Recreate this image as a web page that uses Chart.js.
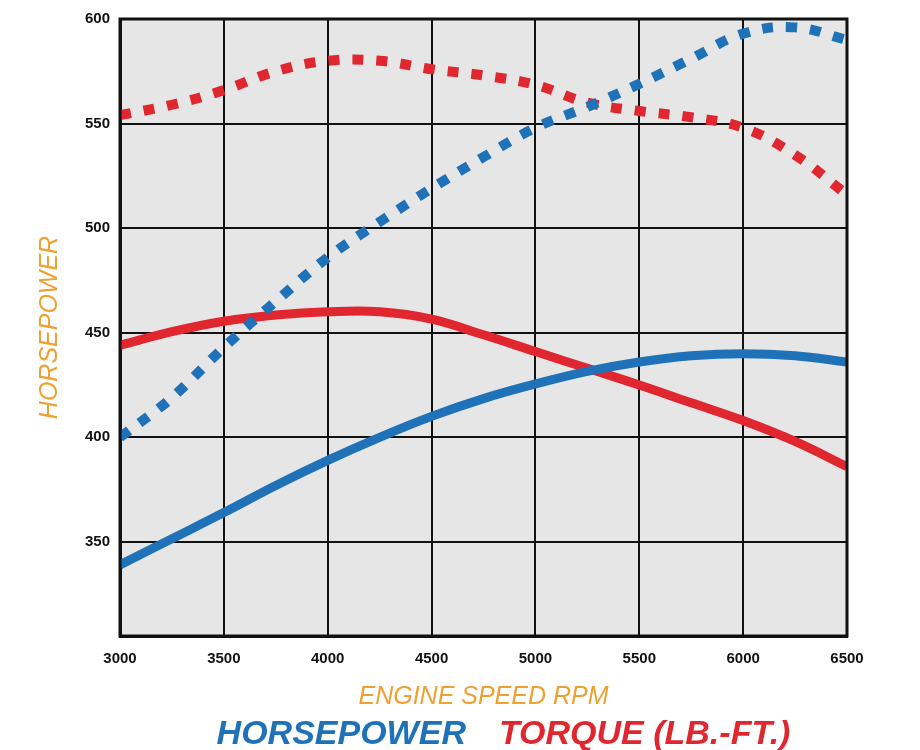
<!DOCTYPE html>
<html>
<head>
<meta charset="utf-8">
<script src="https://cdn.jsdelivr.net/npm/chart.js@4/dist/chart.umd.min.js"></script>
<style>
  html,body{margin:0;padding:0;background:#fff;}
  #wrap{width:920px;height:750px;}
</style>
</head>
<body>
<div id="wrap"><canvas id="c" width="920" height="750"></canvas></div>
<script>
const rpm = [3000,3250,3500,3750,4000,4250,4500,4750,5000,5250,5500,5750,6000,6250,6500];
const hpSolid = [339,351.5,364,377,389,400,410,418.5,425.5,431.5,436,439,440,439,436];
const tqSolid = [444,450.5,455.5,458.5,460,460,456.5,449,441,433,425,416.5,408,398,386];
const hpDotted = [400,419,443,465,486,503,519,534,548,558,569,581,593,596,590];
const tqDotted = [554,559,566,575,580,580,576,573,568.5,560,556,553,548,535,516];
const xTicks = [3000,3500,4000,4500,5000,5500,6000,6500];
const yTicks = [350,400,450,500,550,600];
const xTitle = 'ENGINE SPEED RPM';
const yTitle = 'HORSEPOWER';
const legendLabels = ['HORSEPOWER', 'TORQUE (LB.-FT.)'];

const BLUE = '#1f72b8', RED = '#e0262f', ORANGE = '#f0a030';
const FONT = "'Liberation Sans', Arial, sans-serif";
const pts = arr => rpm.map((r,i)=>({x:r,y:arr[i]}));

const bgPlugin = {
  id:'bg',
  beforeDraw(chart){
    const {ctx, chartArea:a} = chart;
    ctx.save(); ctx.fillStyle='#e6e6e6';
    ctx.fillRect(a.left,a.top,a.right-a.left,a.bottom-a.top); ctx.restore();
  },
  afterDraw(chart){
    const {ctx, chartArea:a} = chart;
    ctx.save(); ctx.strokeStyle='#111'; ctx.lineWidth=3;
    ctx.strokeRect(a.left,a.top,a.right-a.left,a.bottom-a.top);
    ctx.font = "italic bold 34px " + FONT;
    ctx.textBaseline='middle';
    const gap = 33;
    const w0 = ctx.measureText(legendLabels[0]).width;
    const w1 = ctx.measureText(legendLabels[1]).width;
    const center = (a.left + a.right)/2 + 20;
    let x = center - (w0+gap+w1)/2;
    const y = chart.height - 15;
    ctx.fillStyle = BLUE; ctx.fillText(legendLabels[0], x, y);
    ctx.fillStyle = RED; ctx.fillText(legendLabels[1], x + w0 + gap, y);
    ctx.restore();
  }
};

const common = {pointRadius:0, tension:0.4, fill:false};

new Chart(document.getElementById('c'), {
  type:'line',
  data:{
    datasets:[
      {label:'HP dotted', data:pts(hpDotted), borderColor:BLUE, borderWidth:10, borderDash:[11,13], borderCapStyle:'butt', ...common},
      {label:'Torque dotted', data:pts(tqDotted), borderColor:RED, borderWidth:10, borderDash:[11,13], borderCapStyle:'butt', ...common},
      {label:'HP', data:pts(hpSolid), borderColor:BLUE, borderWidth:9, ...common},
      {label:'Torque', data:pts(tqSolid), borderColor:RED, borderWidth:9, ...common}
    ]
  },
  options:{
    responsive:false, animation:false,
    layout:{padding:{top:17,right:73,bottom:38,left:0}},
    plugins:{legend:{display:false}, tooltip:{enabled:false}},
    scales:{
      x:{
        type:'linear', min:3000, max:6500,
        afterBuildTicks(s){ s.ticks = xTicks.map(v=>({value:v})); },
        grid:{color:'#111', lineWidth:2, drawTicks:false},
        border:{color:'#111', width:3},
        ticks:{color:'#111', padding:14, font:{family:FONT, size:15, weight:'bold'}, callback:v=>String(v)},
        title:{display:true, text:xTitle, color:ORANGE, padding:{top:0,bottom:0}, font:{family:FONT, size:25, style:'italic'}}
      },
      y:{
        min:305, max:600,
        afterBuildTicks(s){ s.ticks = yTicks.map(v=>({value:v})); },
        afterFit(s){ s.width = 120; },
        grid:{color:'#111', lineWidth:2, drawTicks:false},
        border:{color:'#111', width:3},
        ticks:{color:'#111', padding:10, font:{family:FONT, size:15, weight:'bold'}, callback:v=>String(v)},
        title:{display:true, text:yTitle, color:ORANGE, padding:{top:35,bottom:0}, font:{family:FONT, size:25, style:'italic'}}
      }
    }
  },
  plugins:[bgPlugin]
});
</script>
</body>
</html>
